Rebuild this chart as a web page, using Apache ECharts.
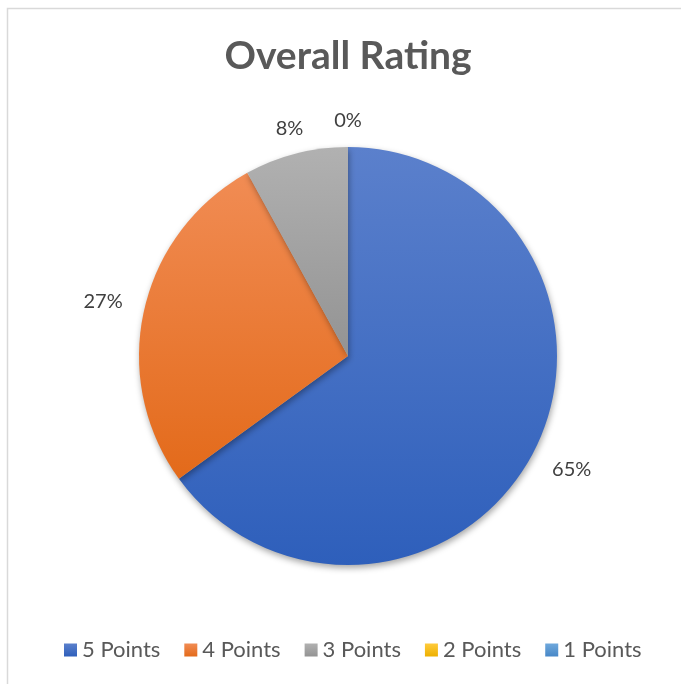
<!DOCTYPE html>
<html>
<head>
<meta charset="utf-8">
<script src="https://cdn.jsdelivr.net/npm/echarts@6/dist/echarts.min.js"></script>
<style>
  html, body { margin: 0; padding: 0; background: #fff; }
  #chart { width: 681px; height: 684px; }
</style>
</head>
<body>
<div id="chart"></div>
<script>
  // 评分数据（百分比）
  var categories = ['5 Points', '4 Points', '3 Points', '2 Points', '1 Points']
  var percents = [65, 27, 8, 0, 0]
  // 每个扇区的渐变色 上 -> 下
  var topColors = ['#5B80CC', '#F18C54', '#B1B1B1', '#FFCB3C', '#6FA8DC']
  var bottomColors = ['#2E5FBB', '#E36A1A', '#939393', '#EDB000', '#4787C7']

  var font = 'Lato, "Open Sans", sans-serif'
  var center = [348, 356]

  function grad(i) {
    return new echarts.graphic.LinearGradient(0, 0, 0, 1, [
      { offset: 0, color: topColors[i] },
      { offset: 1, color: bottomColors[i] }
    ])
  }

  var pieData = categories.map(function (name, i) {
    return { name: name, value: percents[i], itemStyle: { color: grad(i) } }
  })

  // 标签环：大扇区的标签离得远一点，小扇区的近一点
  function labelSeries(radius, showFn) {
    return {
      type: 'pie',
      center: center,
      radius: radius,
      startAngle: 90,
      clockwise: true,
      silent: true,
      avoidLabelOverlap: false,
      emphasis: { disabled: true },
      itemStyle: { color: 'rgba(0,0,0,0)' },
      label: {
        position: 'inside',
        formatter: '{c}%',
        fontFamily: font,
        fontSize: 20,
        color: '#404040'
      },
      labelLine: { show: false },
      data: categories.map(function (name, i) {
        return { name: name, value: percents[i], label: { show: showFn(percents[i]) } }
      })
    }
  }

  var chart = echarts.init(document.getElementById('chart'))
  chart.setOption({
    animation: false,
    title: {
      text: 'Overall Rating',
      left: 343,
      textAlign: 'center',
      top: 32,
      textStyle: {
        fontFamily: font,
        fontSize: 39,
        fontWeight: 'bold',
        color: '#595959'
      }
    },
    legend: {
      data: categories,
      bottom: 18,
      left: 59,
      icon: 'rect',
      itemWidth: 13,
      itemHeight: 13,
      itemGap: 24,
      textStyle: {
        fontFamily: font,
        fontSize: 22,
        color: '#595959'
      }
    },
    graphic: [{
      type: 'rect',
      shape: { x: 7.5, y: 8.5, width: 700, height: 700 },
      style: { fill: 'none', stroke: '#D9D9D9', lineWidth: 1.5 },
      silent: true
    }],
    series: [{
      name: 'Overall Rating',
      type: 'pie',
      center: center,
      radius: 209,
      startAngle: 90,
      clockwise: true,
      label: { show: false },
      labelLine: { show: false },
      emphasis: { disabled: true },
      itemStyle: {
        shadowBlur: 6,
        shadowOffsetX: 1,
        shadowOffsetY: 3,
        shadowColor: 'rgba(0,0,0,0.35)'
      },
      data: pieData
    },
    labelSeries([228, 268], function (v) { return v >= 20 }),
    labelSeries([212, 252], function (v) { return v < 20 })
    ]
  })
</script>
</body>
</html>
